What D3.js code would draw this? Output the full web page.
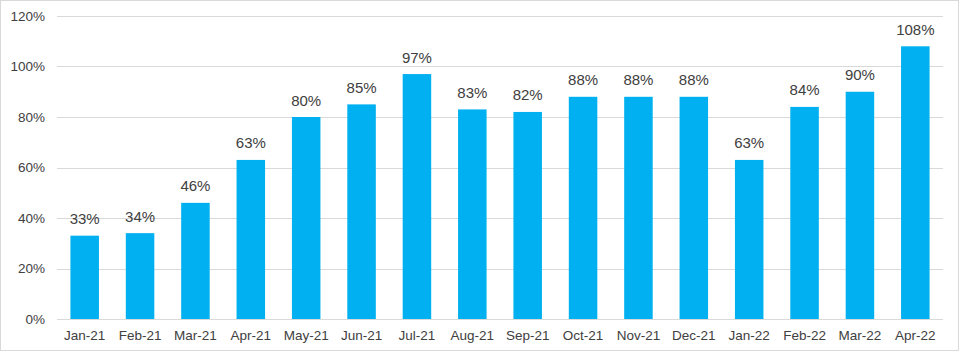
<!DOCTYPE html>
<html>
<head>
<meta charset="utf-8">
<script src="https://cdn.jsdelivr.net/npm/d3@7"></script>
<style>
  body { margin: 0; background: #fff; }
  svg { display: block; font-family: "Liberation Sans", Arial, sans-serif; }
</style>
</head>
<body>
<div id="chart"></div>
<script>
const months = ["Jan-21", "Feb-21", "Mar-21", "Apr-21", "May-21", "Jun-21", "Jul-21", "Aug-21",
    "Sep-21", "Oct-21", "Nov-21", "Dec-21", "Jan-22", "Feb-22", "Mar-22", "Apr-22"];
const values = [33, 34, 46, 63, 80, 85, 97, 83, 82, 88, 88, 88, 63, 84, 90, 108];
const yTicks = [0, 20, 40, 60, 80, 100, 120];

const width = 960;
const height = 353;
const margin = { top: 16, right: 17, bottom: 34, left: 57 };

const svg = d3.select("#chart")
    .append("svg")
    .attr("width", width)
    .attr("height", height);

// outer frame
svg.append("rect")
    .attr("x", 0.5)
    .attr("y", 0.5)
    .attr("width", width - 2)
    .attr("height", height - 3)
    .attr("fill", "none")
    .attr("stroke", "#d9d9d9");

const x = d3.scaleBand()
    .domain(months)
    .range([margin.left, width - margin.right])
    .paddingInner(0.485)
    .paddingOuter(0.2425);

const y = d3.scaleLinear()
    .domain([0, 120])
    .range([height - margin.bottom, margin.top]);

// gridlines
svg.append("g")
    .selectAll("line")
    .data(yTicks)
    .join("line")
    .attr("x1", margin.left)
    .attr("x2", width - margin.right)
    .attr("y1", d => Math.round(y(d)) + 0.5)
    .attr("y2", d => Math.round(y(d)) + 0.5)
    .attr("stroke", "#d9d9d9")
    .attr("stroke-width", 1);

// y axis labels
const yAxis = svg.append("g")
    .attr("transform", `translate(${margin.left},0)`)
    .call(d3.axisLeft(y).tickValues(yTicks).tickSize(0).tickPadding(12).tickFormat(d => d + "%"));
yAxis.select(".domain").remove();
yAxis.selectAll("text")
    .attr("fill", "#404040")
    .style("font-size", "13.5px");

// x axis labels
const xAxis = svg.append("g")
    .attr("transform", `translate(0,${height - margin.bottom})`)
    .call(d3.axisBottom(x).tickSize(0).tickPadding(11));
xAxis.select(".domain").remove();
xAxis.selectAll("text")
    .attr("fill", "#404040")
    .style("font-size", "13.5px");

// bars
svg.append("g")
    .selectAll("rect")
    .data(values)
    .join("rect")
    .attr("x", (d, i) => x(months[i]))
    .attr("y", d => y(d))
    .attr("width", x.bandwidth())
    .attr("height", d => y(0) - y(d))
    .attr("fill", "#00b0f0");

// value labels
svg.append("g")
    .selectAll("text")
    .data(values)
    .join("text")
    .attr("x", (d, i) => x(months[i]) + x.bandwidth() / 2)
    .attr("y", d => y(d) - 11.5)
    .attr("text-anchor", "middle")
    .attr("fill", "#404040")
    .style("font-size", "15px")
    .text(d => d + "%");
</script>
</body>
</html>
